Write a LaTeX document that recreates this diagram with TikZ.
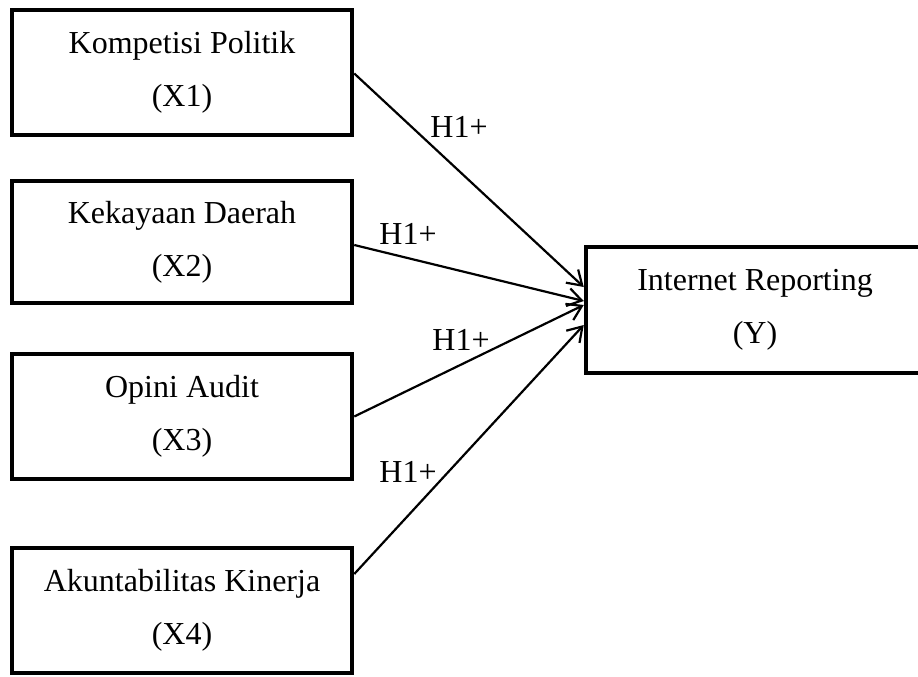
\documentclass[tikz,border=0pt]{standalone}
\usepackage{fontspec}
\setmainfont{Liberation Serif}
\usetikzlibrary{arrows.meta}
\begin{document}
\begin{tikzpicture}[x=1pt,y=-1pt,
  varbox/.style={draw, line width=4.5pt, rectangle, minimum width=340pt, align=center,
    font=\fontsize{32}{53}\selectfont, inner sep=0pt},
  link/.style={line width=2.2pt, -{Straight Barb[length=14pt,width=18pt,line width=2.2pt]}},
  hlabel/.style={font=\fontsize{32}{36}\selectfont, inner sep=0pt}
]
\useasboundingbox (0,0) rectangle (918,677);
\clip (0,0) rectangle (918,677);
\node[varbox, minimum height=125pt] (x1) at (182,72.5) {Kompetisi Politik\\(X1)};
\node[varbox, minimum height=122pt] (x2) at (182,242) {Kekayaan Daerah\\(X2)};
\node[varbox, minimum height=125pt] (x3) at (182,416.5) {Opini Audit\\(X3)};
\node[varbox, minimum height=125pt] (x4) at (182,610.5) {Akuntabilitas Kinerja\\(X4)};
\node[varbox, minimum width=338pt, minimum height=126pt] (y) at (755,310) {Internet Reporting\\(Y)};
\draw[link] ([yshift=-1pt]x1.east) -- ([yshift=23pt]y.west);
\draw[link] ([yshift=-3pt]x2.east) -- ([yshift=9pt]y.west);
\draw[link] (x3.east) -- ([yshift=5pt]y.west);
\draw[link] ([yshift=36.5pt]x4.east) -- ([yshift=-15pt]y.west);
\node[hlabel] (h1) at (459,127) {H1+};
\node[hlabel] (h2) at (408,234) {H1+};
\node[hlabel] (h3) at (461,340) {H1+};
\node[hlabel] (h4) at (408,472) {H1+};
\end{tikzpicture}
\end{document}
